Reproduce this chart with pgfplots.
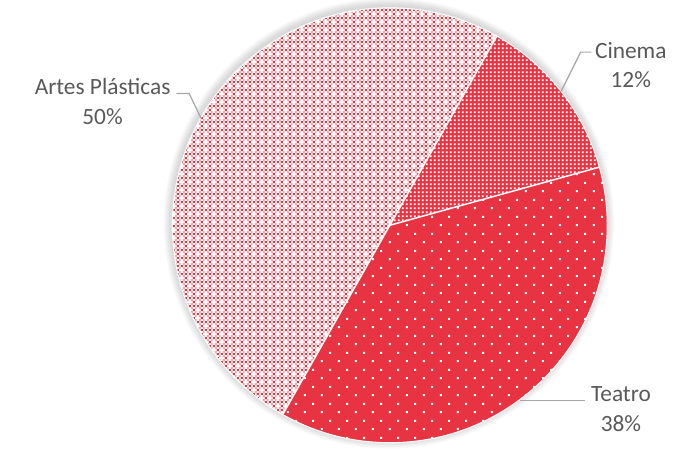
\documentclass[border=0pt]{standalone}
\usepackage{pgfplots}
\pgfplotsset{compat=1.18}
\usepackage{pgfplotstable}
\usepackage{fontspec}
\setmainfont{Carlito}
\usetikzlibrary{patterns.meta}
\definecolor{pieRed}{RGB}{232,52,66}
\definecolor{labGray}{RGB}{89,89,89}
\definecolor{leadGray}{RGB}{166,166,166}

\tikzdeclarepattern{
  name=teatrodots, type=uncolored,
  bottom left={(0,0)}, top right={(17bp,17bp)}, tile size={(17bp,17bp)},
  code={
    \fill (3bp,3bp) rectangle (5bp,5bp);
    \fill (11.5bp,11.5bp) rectangle (13.5bp,13.5bp);
  }
}
\tikzdeclarepattern{
  name=cinemadots, type=uncolored,
  bottom left={(0,0)}, top right={(4bp,4bp)}, tile size={(4bp,4bp)},
  code={
    \fill (1bp,1bp) rectangle (2.8bp,2.8bp);
  }
}
\tikzdeclarepattern{
  name=artesA, type=uncolored,
  bottom left={(0,0)}, top right={(8bp,8bp)}, tile size={(8bp,8bp)},
  code={
    \fill (0bp,0bp) rectangle (2bp,2bp);
    \fill (4bp,4bp) rectangle (6bp,6bp);
    \fill (4bp,0bp) rectangle (6bp,2bp);
  }
}
\tikzdeclarepattern{
  name=artesB, type=uncolored,
  bottom left={(0,0)}, top right={(8bp,8bp)}, tile size={(8bp,8bp)},
  code={
    \fill (2bp,2bp) rectangle (4bp,4bp);
    \fill (6bp,6bp) rectangle (8bp,8bp);
    \fill (2bp,6bp) rectangle (4bp,8bp);
    \fill (6bp,2bp) rectangle (8bp,4bp);
  }
}

\pgfplotstableread{
label value
Cinema 12.5
Teatro 37.5
Artes 50
}\piedata

\begin{document}
\pgfplotstablegetelem{0}{value}\of\piedata \let\vCin\pgfplotsretval
\pgfplotstablegetelem{1}{value}\of\piedata \let\vTea\pgfplotsretval
\pgfplotstablegetelem{2}{value}\of\piedata \let\vArt\pgfplotsretval
\pgfmathsetmacro\aA{60.5}
\pgfmathsetmacro\aB{\aA-3.6*\vCin}
\pgfmathsetmacro\aC{\aB-3.6*\vTea}
\pgfmathsetmacro\aD{\aC-3.6*\vArt}
\def\R{221bp}
\begin{tikzpicture}[trim axis left, trim axis right]
\begin{axis}[x=1bp,y=1bp,xmin=0,xmax=680,ymin=0,ymax=451,
  axis lines=none, ticks=none, scale only axis, clip=false]
\path (axis cs:0,0) rectangle (axis cs:680,451);
% soft shadow
\pgfplotsinvokeforeach{1,...,8}{
  \fill[overlay,black,opacity=0.018] (axis cs:384,224) circle[radius=221bp+#1bp];
}
% Cinema
\fill[pieRed] (axis cs:385,222) -- ++(\aA:\R) arc[start angle=\aA, end angle=\aB, radius=\R] -- cycle;
\fill[pattern=cinemadots, pattern color=white] (axis cs:385,222) -- ++(\aA:\R) arc[start angle=\aA, end angle=\aB, radius=\R] -- cycle;
% Teatro
\fill[pieRed] (axis cs:385,222) -- ++(\aB:\R) arc[start angle=\aB, end angle=\aC, radius=\R] -- cycle;
\fill[pattern=teatrodots, pattern color=white] (axis cs:385,222) -- ++(\aB:\R) arc[start angle=\aB, end angle=\aC, radius=\R] -- cycle;
% Artes
\fill[white] (axis cs:385,222) -- ++(\aC:\R) arc[start angle=\aC, end angle=\aD, radius=\R] -- cycle;
\fill[pattern=artesA, pattern color=pieRed] (axis cs:385,222) -- ++(\aC:\R) arc[start angle=\aC, end angle=\aD, radius=\R] -- cycle;
\fill[pattern=artesB, pattern color=pieRed!45] (axis cs:385,222) -- ++(\aC:\R) arc[start angle=\aC, end angle=\aD, radius=\R] -- cycle;
% separators
\draw[white,line width=1.5bp] (axis cs:385,222) -- ++(\aA:\R);
\draw[white,line width=1.5bp] (axis cs:385,222) -- ++(\aB:\R);
\draw[white,line width=1.5bp] (axis cs:385,222) -- ++(\aC:\R);
\draw[white,line width=1bp] (axis cs:385,222) circle[radius=\R];
% leader lines
\draw[leadGray,line width=1.2bp] (axis cs:168,356) -- (axis cs:181,356) -- (axis cs:193,331);
\draw[leadGray,line width=1.2bp] (axis cs:590,398) -- (axis cs:579,398) -- (axis cs:559,358);
\draw[leadGray,line width=1.2bp] (axis cs:517,44) -- (axis cs:583,44);
% labels
\node[labGray,align=center,font=\fontsize{23.8}{30}\selectfont] at (axis cs:93,348) {Artes Plásticas\\50\%};
\node[labGray,align=center,font=\fontsize{23.8}{30}\selectfont] at (axis cs:630,385) {Cinema\\12\%};
\node[labGray,align=center,font=\fontsize{23.8}{30}\selectfont] at (axis cs:620,35) {Teatro\\38\%};
\end{axis}
\end{tikzpicture}
\end{document}
